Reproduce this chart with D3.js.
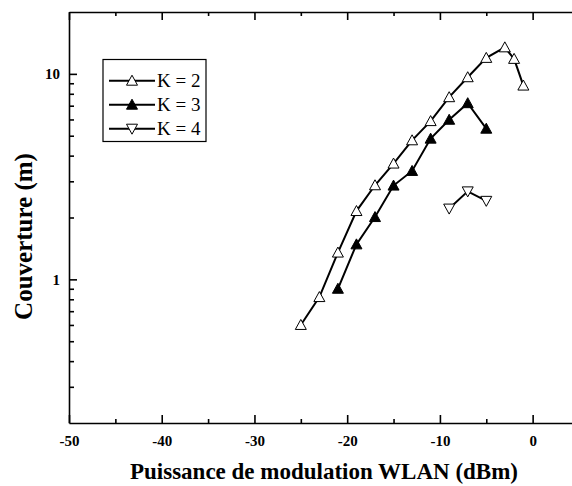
<!DOCTYPE html>
<html><head><meta charset="utf-8">
<script src="https://cdn.jsdelivr.net/npm/d3@7"></script>
<style>
body{margin:0;background:#fff;}
svg{display:block;}
text{font-family:"Liberation Serif","Times New Roman",Times,serif;}
</style></head>
<body><svg id="c" width="572" height="486"></svg>
<script>
const xK2 = [-25,-23,-21,-19,-17,-15,-13,-11,-9,-7,-5,-3,-2,-1];
const yK2 = [0.60,0.82,1.35,2.15,2.87,3.66,4.75,5.89,7.70,9.63,11.96,13.46,11.83,8.77];
const xK3 = [-21,-19,-17,-15,-13,-11,-9,-7,-5];
const yK3 = [0.90,1.48,2.01,2.86,3.37,4.84,5.98,7.20,5.41];
const xK4 = [-9,-7,-5];
const yK4 = [2.21,2.68,2.41];
const seriesNames = ["K = 2","K = 3","K = 4"];
const xMajor = [-50,-40,-30,-20,-10,0];
const xMinor = [-45,-35,-25,-15,-5];
const yMajor = [1,10];
const yMinor = [0.3,0.4,0.5,0.6,0.7,0.8,0.9,2,3,4,5,6,7,8,9];
const xTitle = "Puissance de modulation WLAN (dBm)";
const yTitle = "Couverture (m)";

const svg = d3.select("#c");
const L=69, R=579, T=12, B=423;
const x = d3.scaleLinear().domain([-50,5]).range([L,R]);
const y = d3.scaleLog().domain([0.2,20]).range([B,T]);
const fmt = d => String(d);

function styleAxis(g){
  g.selectAll("path").attr("stroke","#000").attr("stroke-width",1.6);
  g.selectAll("line").attr("stroke","#000").attr("stroke-width",1.6);
  g.selectAll("text").attr("fill","#000").style("font-weight","bold").style("font-size","15px")
   .style("font-family",'"Liberation Serif","Times New Roman",serif');
}
const gx = svg.append("g").attr("transform",`translate(0,${B})`)
  .call(d3.axisBottom(x).tickValues(xMajor).tickSizeInner(-8).tickSizeOuter(0).tickPadding(12).tickFormat(fmt));
styleAxis(gx);
const gxm = svg.append("g").attr("transform",`translate(0,${B})`)
  .call(d3.axisBottom(x).tickValues(xMinor).tickSizeInner(-4).tickSizeOuter(0).tickFormat(""));
styleAxis(gxm); gxm.select("path").remove();
const gt = svg.append("g").attr("transform",`translate(0,${T})`)
  .call(d3.axisTop(x).tickValues(xMajor).tickSizeInner(-8).tickSizeOuter(0).tickFormat(""));
styleAxis(gt);
const gtm = svg.append("g").attr("transform",`translate(0,${T})`)
  .call(d3.axisTop(x).tickValues(xMinor).tickSizeInner(-4).tickSizeOuter(0).tickFormat(""));
styleAxis(gtm); gtm.select("path").remove();
const gy = svg.append("g").attr("transform",`translate(${L},0)`)
  .call(d3.axisLeft(y).tickValues(yMajor).tickSizeInner(-8).tickSizeOuter(0).tickPadding(9).tickFormat(fmt));
styleAxis(gy);
const gym = svg.append("g").attr("transform",`translate(${L},0)`)
  .call(d3.axisLeft(y).tickValues(yMinor).tickSizeInner(-5).tickSizeOuter(0).tickFormat(""));
styleAxis(gym); gym.select("path").remove();

svg.append("text").attr("x",(L+R)/2).attr("y",479).attr("text-anchor","middle")
  .style("font-weight","bold").style("font-size","23px").text(xTitle);
svg.append("text").attr("transform",`translate(32,${(T+B)/2+19}) rotate(-90)`).attr("text-anchor","middle")
  .style("font-weight","bold").style("font-size","25px").text(yTitle);

const up = "M0,-5.5L5.5,4.5L-5.5,4.5Z";
const down = "M0,5.5L5.5,-4.5L-5.5,-4.5Z";
const series = [
  {name:seriesNames[0], xs:xK2, ys:yK2, path:up, fill:"#fff"},
  {name:seriesNames[1], xs:xK3, ys:yK3, path:up, fill:"#000"},
  {name:seriesNames[2], xs:xK4, ys:yK4, path:down, fill:"#fff"}
];
const line = d3.line().x(d=>x(d[0])).y(d=>y(d[1]));
series.forEach(s=>{
  const pts = s.xs.map((v,i)=>[v,s.ys[i]]);
  svg.append("path").datum(pts).attr("d",line).attr("fill","none").attr("stroke","#000").attr("stroke-width",2);
  svg.selectAll(null).data(pts).enter().append("path")
    .attr("transform",d=>`translate(${x(d[0])},${y(d[1])})`)
    .attr("d",s.path).attr("fill",s.fill).attr("stroke","#000").attr("stroke-width",1);
});

const lg = svg.append("g");
lg.append("rect").attr("x",103).attr("y",59.5).attr("width",103).attr("height",82)
  .attr("fill","#fff").attr("stroke","#000").attr("stroke-width",1.2);
series.forEach((s,i)=>{
  const yy = 80.7 + i*24;
  lg.append("line").attr("x1",109).attr("x2",155).attr("y1",yy).attr("y2",yy).attr("stroke","#000").attr("stroke-width",2);
  lg.append("path").attr("transform",`translate(132,${yy})`).attr("d",s.path).attr("fill",s.fill).attr("stroke","#000").attr("stroke-width",1);
  lg.append("text").attr("x",157).attr("y",yy+6.5).style("font-size","19px").text(s.name);
});
</script></body></html>
